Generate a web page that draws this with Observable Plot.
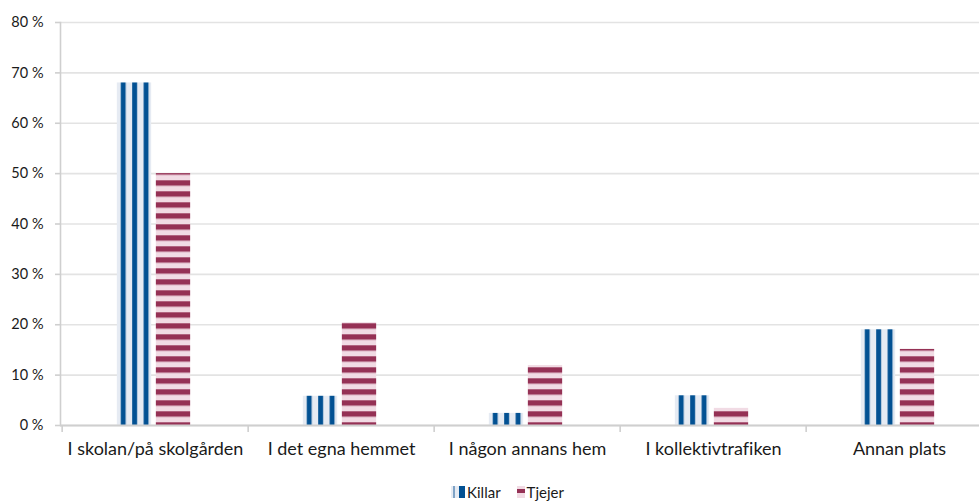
<!DOCTYPE html>
<html>
<head>
<meta charset="utf-8">
<script src="https://cdn.jsdelivr.net/npm/d3@7"></script>
<script src="https://cdn.jsdelivr.net/npm/@observablehq/plot@0.6"></script>
<style>
  html, body { margin: 0; padding: 0; background: #fff; }
  body { width: 979px; height: 502px; overflow: hidden; font-family: Lato, "Open Sans", sans-serif; font-variant-ligatures: none; }
  svg text { font-variant-ligatures: none; }
  #legend { height: 22px; margin-top: 1px; display: flex; align-items: center; justify-content: center; font-size: 15px; color: #1a1a1a; padding-left: 36px; }
  #legend .item { display: flex; align-items: center; margin: 0 8px; }
</style>
</head>
<body>
<div id="chart"></div>
<div id="legend"></div>
<script>
const categories = ["I skolan/på skolgården", "I det egna hemmet", "I någon annans hem", "I kollektivtrafiken", "Annan plats"];
const killar = [68, 5.8, 2.4, 5.9, 19.0];
const tjejer = [50, 20.4, 11.9, 3.4, 15.1];
const series = ["Killar", "Tjejer"];
const yTicks = [0, 10, 20, 30, 40, 50, 60, 70, 80];

const W = 979, H = 480;
const mL = 60, mT = 22, mB = 55;
const band = 186.7;
const xRange = [mL, mL + band * categories.length];
const barW = 35, gap = 4;
const outer = (band - 2 * barW - gap) / 2 - 1.5;

const rowsK = categories.map((c, i) => ({category: c, series: series[0], value: killar[i]}));
const rowsT = categories.map((c, i) => ({category: c, series: series[1], value: tjejer[i]}));

const gridColor = "#e3e3e3";
const axisColor = "#cfcfcf";

const chart = Plot.plot({
  width: W,
  height: H,
  marginLeft: mL,
  marginRight: 0,
  marginTop: mT,
  marginBottom: mB,
  style: {fontFamily: "Lato, 'Open Sans', sans-serif", color: "#1a1a1a", background: "#fff"},
  x: {domain: categories, range: xRange, padding: 0, label: null},
  y: {domain: [0, 80], ticks: yTicks, label: null},
  marks: [
    Plot.gridY(yTicks, {stroke: gridColor, strokeOpacity: 1, strokeWidth: 1.6}),
    Plot.barY(rowsK, {x: "category", y: "value", fill: "url(#pat-killar)", insetLeft: outer, insetRight: band - outer - barW}),
    Plot.barY(rowsT, {x: "category", y: "value", fill: "url(#pat-tjejer)", insetLeft: outer + barW + gap, insetRight: band - outer - 2 * barW - gap}),
    Plot.ruleY([0], {stroke: axisColor, strokeWidth: 1.8}),
    Plot.frame({anchor: "left", stroke: axisColor, strokeWidth: 1.6}),
    Plot.ruleX(categories, {x: d => d, dx: -band / 2, insetTop: H - mT - mB, insetBottom: -7, stroke: axisColor, strokeWidth: 1.6}),
    Plot.axisY(yTicks, {tickSize: 5, tickPadding: 12, stroke: axisColor, strokeWidth: 1.6, tickFormat: d => d + " %", fontSize: 14.5, fill: "#1a1a1a", label: null}),
    Plot.axisX({tickSize: 0, tickPadding: 17, fontSize: 18, fill: "#1a1a1a", label: null})
  ]
});

const svg = d3.select(chart);
const defs = svg.insert("defs", ":first-child");
const pk = defs.append("pattern")
  .attr("id", "pat-killar")
  .attr("patternUnits", "objectBoundingBox")
  .attr("patternContentUnits", "objectBoundingBox")
  .attr("width", 1 / 3).attr("height", 1);
pk.append("rect").attr("x", 0).attr("y", 0).attr("width", 1 / 3).attr("height", 1).attr("fill", "#e6ebf3");
pk.append("rect").attr("x", 4 / 35).attr("y", 0).attr("width", 5 / 35).attr("height", 1).attr("fill", "#025193");

const pt = defs.append("pattern")
  .attr("id", "pat-tjejer")
  .attr("patternUnits", "userSpaceOnUse")
  .attr("x", 0).attr("y", 422.3)
  .attr("width", 20).attr("height", 11);
pt.append("rect").attr("x", 0).attr("y", 0).attr("width", 20).attr("height", 11).attr("fill", "#f1dbe4");
pt.append("rect").attr("x", 0).attr("y", 0).attr("width", 20).attr("height", 5.4).attr("fill", "#953155");

document.getElementById("chart").appendChild(chart);

// legend
const legend = d3.select("#legend");
const sw = [
  {name: series[0], w: 14, draw: g => {
    g.append("rect").attr("width", 14).attr("height", 12).attr("fill", "#e6ebf3");
    g.append("rect").attr("x", 2).attr("width", 2).attr("height", 12).attr("fill", "#7fa3c6");
    g.append("rect").attr("x", 8).attr("width", 6).attr("height", 12).attr("fill", "#025193");
  }},
  {name: series[1], w: 8, draw: g => {
    g.append("rect").attr("width", 8).attr("height", 12).attr("fill", "#f1dbe4");
    g.append("rect").attr("y", 3).attr("width", 8).attr("height", 4).attr("fill", "#953155");
  }}
];
sw.forEach(s => {
  const item = legend.append("div").attr("class", "item");
  const g = item.append("svg").attr("width", s.w).attr("height", 12);
  s.draw(g);
  item.append("span").text(s.name).style("margin-left", "2px");
});
</script>
</body>
</html>
